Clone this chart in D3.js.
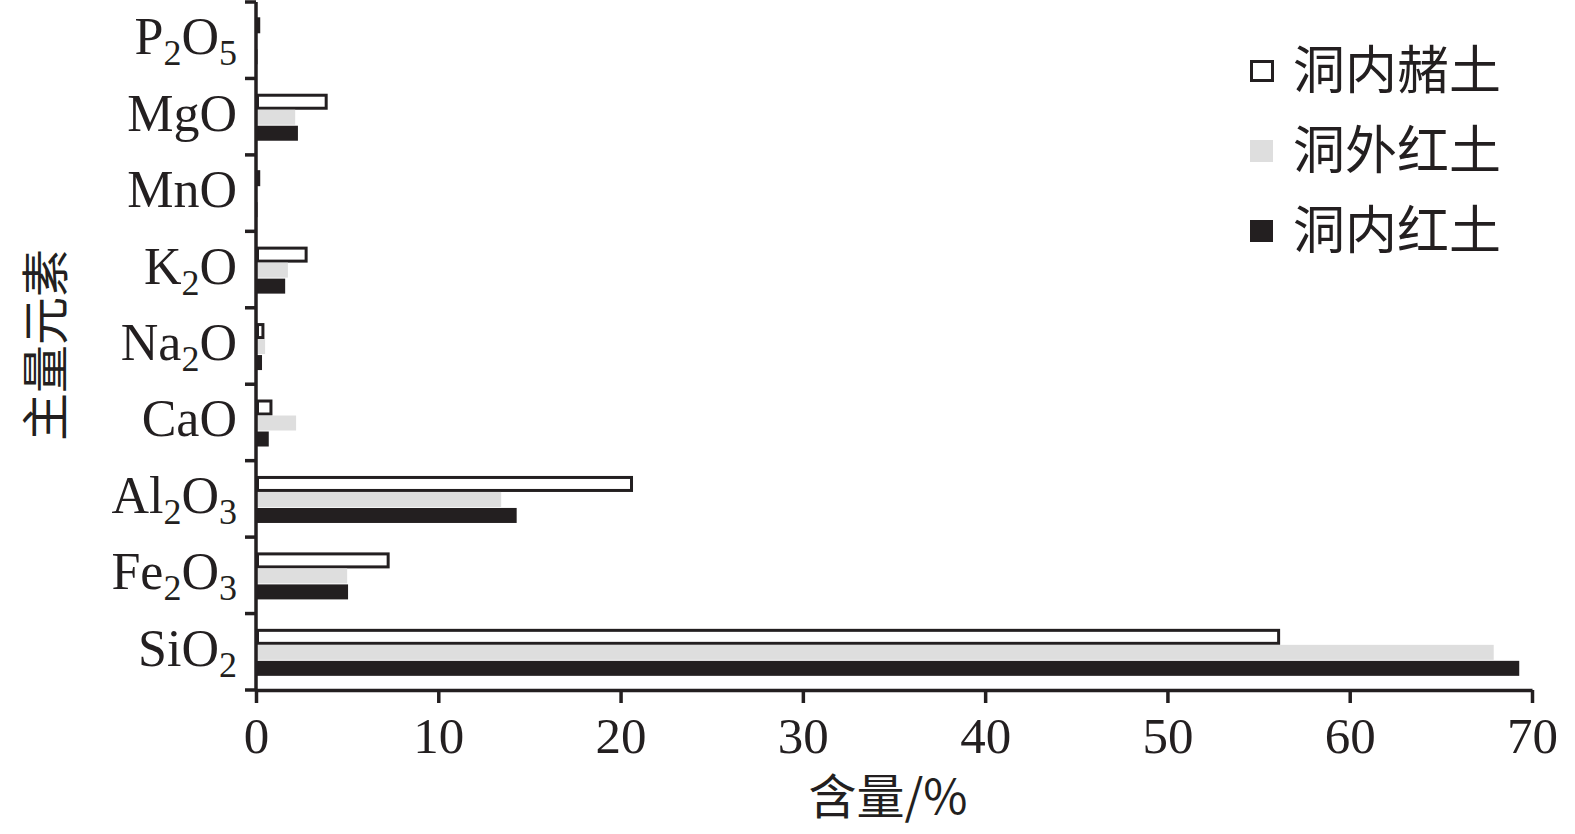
<!DOCTYPE html>
<html>
<head>
<meta charset="utf-8">
<script src="https://cdn.jsdelivr.net/npm/d3@7"></script>
<style>
  body { margin: 0; background: #fff; }
  svg { display: block; }
</style>
</head>
<body>
<svg id="chart" width="1575" height="834"></svg>
<script>
// categories listed top to bottom
var elements = ["P2O5", "MgO", "MnO", "K2O", "Na2O", "CaO", "Al2O3", "Fe2O3", "SiO2"]
var seriesNames = ["洞内赭土", "洞外红土", "洞内红土"]
var innerOchre = [0.15, 3.85, 0.15, 2.75, 0.38, 0.82, 20.6, 7.25, 56.1]
var outerRed   = [0.05, 2.15, 0.05, 1.75, 0.5, 2.2, 13.45, 5.0, 67.9]
var innerRed   = [0.08, 2.3, 0.08, 1.6, 0.33, 0.7, 14.3, 5.05, 69.3]
var xTicks = [0, 10, 20, 30, 40, 50, 60, 70]

var ink = "#231f20"
var fills = ["#ffffff", "#dedede", ink]
var series = [innerOchre, outerRed, innerRed]

var margin = { top: 2, left: 256, bottom: 144, right: 43 }
var svg = d3.select("#chart")
var width = 1575 - margin.left - margin.right
var height = 834 - margin.top - margin.bottom

var x = d3.scaleLinear().domain([0, 70]).range([0, width])
var y = d3.scaleBand().domain(elements).range([0, height])
var yInner = d3.scaleBand().domain([0, 1, 2]).range([y.bandwidth() * 0.2, y.bandwidth() * 0.2 + 48])

var g = svg.append("g").attr("transform", `translate(${margin.left},${margin.top})`)

// bars
var rows = g.selectAll("g.row")
    .data(elements)
    .join("g")
    .attr("class", "row")
    .attr("transform", function (d) { return `translate(0,${y(d)})` })

rows.selectAll("rect")
    .data(function (d, i) { return series.map(function (s, k) { return { k: k, v: s[i] } }) })
    .join("rect")
    .attr("x", function (d) { return d.k == 0 ? 1.5 : 0 })
    .attr("y", function (d) { return yInner(d.k) + (d.k == 0 ? 1.5 : 0) })
    .attr("width", function (d) { return Math.max(0, x(d.v) - (d.k == 0 ? 1.5 : 0)) })
    .attr("height", function (d) { return yInner.bandwidth() - (d.k == 0 ? 3 : 1) })
    .style("fill", function (d) { return fills[d.k] })
    .style("stroke", function (d) { return d.k == 0 ? ink : "none" })
    .style("stroke-width", 3)

// x axis
var xAxis = g.append("g")
    .attr("transform", `translate(0,${height})`)
    .call(d3.axisBottom(x).tickValues(xTicks).tickSize(13).tickPadding(14).tickSizeOuter(0))
xAxis.select(".domain").attr("stroke", ink).attr("stroke-width", 3.5)
xAxis.selectAll(".tick line").attr("stroke", ink).attr("stroke-width", 3.5)
xAxis.selectAll(".tick text")
    .attr("fill", ink)
    .style("font-family", "Liberation Serif")
    .style("font-size", "51px")

// y axis: line with ticks at band edges
var edges = elements.map(function (d) { return y(d) }).concat([height])
g.append("line")
    .attr("x1", 0).attr("x2", 0)
    .attr("y1", 0).attr("y2", height)
    .attr("stroke", ink).attr("stroke-width", 3.5)
g.selectAll("line.ytick")
    .data(edges)
    .join("line")
    .attr("class", "ytick")
    .attr("x1", -11).attr("x2", 0)
    .attr("y1", function (d) { return d }).attr("y2", function (d) { return d })
    .attr("stroke", ink).attr("stroke-width", 3.5)

// element labels with subscript digits
var labels = g.selectAll("text.ylab")
    .data(elements)
    .join("text")
    .attr("class", "ylab")
    .attr("x", -19)
    .attr("y", function (d) { return y(d) + y.bandwidth() / 2 + 14 })
    .attr("text-anchor", "end")
    .attr("fill", ink)
    .style("font-family", "Liberation Serif")
    .style("font-size", "52px")

labels.each(function (d) {
    var t = d3.select(this)
    var parts = d.match(/[A-Za-z]+|\d+/g)
    var sub = false
    parts.forEach(function (p) {
        var isNum = /\d/.test(p)
        var span = t.append("tspan").text(p)
        if (isNum) {
            span.attr("dy", sub ? 0 : 11).style("font-size", "36px")
            sub = true
        } else if (sub) {
            span.attr("dy", -11)
            sub = false
        }
    })
})

// axis titles
svg.append("text")
    .attr("x", 888).attr("y", 814)
    .attr("text-anchor", "middle")
    .attr("fill", ink)
    .style("font-family", "Noto Sans CJK SC")
    .style("font-size", "48px")
    .text("含量/%")

svg.append("text")
    .attr("transform", "translate(63,345) rotate(-90)")
    .attr("text-anchor", "middle")
    .attr("fill", ink)
    .style("font-family", "Noto Sans CJK SC")
    .style("font-size", "48px")
    .text("主量元素")

// legend
var legend = svg.append("g").attr("transform", "translate(1250,60)")
var items = legend.selectAll("g")
    .data(seriesNames)
    .join("g")
    .attr("transform", function (d, i) { return `translate(0,${i * 80})` })
items.append("rect")
    .attr("x", function (d, i) { return i == 0 ? 1.5 : 0 })
    .attr("y", function (d, i) { return i == 0 ? 1.5 : 0 })
    .attr("width", function (d, i) { return i == 0 ? 21 : 23 })
    .attr("height", function (d, i) { return i == 0 ? 19 : 22 })
    .style("fill", function (d, i) { return fills[i] })
    .style("stroke", function (d, i) { return i == 0 ? ink : "none" })
    .style("stroke-width", 3)
items.append("text")
    .attr("x", 43).attr("y", 29)
    .attr("fill", ink)
    .style("font-family", "Noto Sans CJK SC")
    .style("font-size", "52px")
    .text(function (d) { return d })
</script>
</body>
</html>
